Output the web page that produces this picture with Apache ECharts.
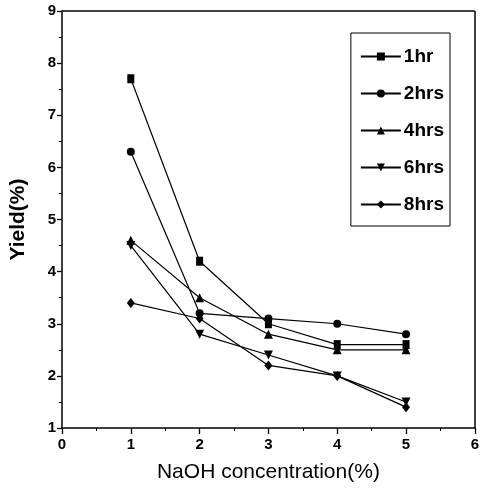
<!DOCTYPE html>
<html>
<head>
<meta charset="utf-8">
<script src="https://cdn.jsdelivr.net/npm/echarts@6/dist/echarts.min.js"></script>
<style>
  html, body { margin: 0; padding: 0; background: #fff; }
  #chart { width: 482px; height: 492px; }
</style>
</head>
<body>
<div id="chart"></div>
<script>
// NaOH concentration (%)
const concentration = [1, 2, 3, 4, 5];
const seriesNames = ['1hr', '2hrs', '4hrs', '6hrs', '8hrs'];
const yield1hr = [7.7, 4.2, 3.0, 2.6, 2.6];
const yield2hrs = [6.3, 3.2, 3.1, 3.0, 2.8];
const yield4hrs = [4.6, 3.5, 2.8, 2.5, 2.5];
const yield6hrs = [4.5, 2.8, 2.4, 2.0, 1.5];
const yield8hrs = [3.4, 3.1, 2.2, 2.0, 1.4];

const allYields = [yield1hr, yield2hrs, yield4hrs, yield6hrs, yield8hrs];
const symbols = ['rect', 'circle', 'triangle', 'triangle', 'diamond'];
const symbolRotate = [0, 0, 0, 180, 0];
const symbolSizes = [[7, 9], 8, 9, 9, [8, 10]];

const chart = echarts.init(document.getElementById('chart'));
const font = 'Arial, "Liberation Sans", sans-serif';

const option = {
  animation: false,
  grid: { left: 60, right: 7, top: 11, bottom: 64 },
  legend: {
    orient: 'vertical',
    right: 32,
    top: 33,
    itemGap: 18,
    itemWidth: 40,
    itemHeight: 10,
    padding: [14, 6, 12, 9],
    borderColor: '#000',
    borderWidth: 1,
    textStyle: { fontFamily: font, fontSize: 19, fontWeight: 'bold', color: '#000', padding: [0, 0, 0, -2] },
    data: seriesNames
  },
  xAxis: {
    type: 'value',
    min: 0, max: 6, interval: 1,
    name: 'NaOH concentration(%)',
    nameLocation: 'middle',
    nameGap: 34,
    nameTextStyle: { fontFamily: font, fontSize: 21, color: '#000' },
    axisLine: { lineStyle: { color: '#000', width: 1.5 } },
    axisTick: { inside: false, length: 6, lineStyle: { color: '#000', width: 1.3 } },
    minorTick: { show: true, splitNumber: 2, length: 3, lineStyle: { color: '#000' } },
    axisLabel: { fontFamily: font, fontSize: 15, fontWeight: 'bold', color: '#000', margin: 9 },
    splitLine: { show: false }
  },
  yAxis: {
    type: 'value',
    min: 1, max: 9, interval: 1,
    name: 'Yield(%)',
    nameLocation: 'middle',
    nameGap: 33,
    nameTextStyle: { fontFamily: font, fontSize: 21, fontWeight: 'bold', color: '#000' },
    axisLine: { lineStyle: { color: '#000', width: 1.5 } },
    axisTick: { inside: false, length: 5, lineStyle: { color: '#000', width: 1.3 } },
    minorTick: { show: true, splitNumber: 2, length: 3, lineStyle: { color: '#000' } },
    axisLabel: { fontFamily: font, fontSize: 15, fontWeight: 'bold', color: '#000', margin: 6 },
    splitLine: { show: false }
  },
  series: [
    ...seriesNames.map((name, i) => ({
      name: name,
      type: 'line',
      data: concentration.map((c, j) => [c, allYields[i][j]]),
      symbol: symbols[i],
      symbolRotate: symbolRotate[i],
      symbolSize: symbolSizes[i],
      lineStyle: { color: '#000', width: 1.2 },
      itemStyle: { color: '#000' }
    })),
    {
      // frame on top and right
      type: 'line',
      data: [],
      markLine: {
        silent: true,
        symbol: 'none',
        label: { show: false },
        lineStyle: { color: '#000', width: 1.5, type: 'solid' },
        data: [{ yAxis: 9 }, { xAxis: 6 }]
      }
    }
  ]
};

chart.setOption(option);
</script>
</body>
</html>
